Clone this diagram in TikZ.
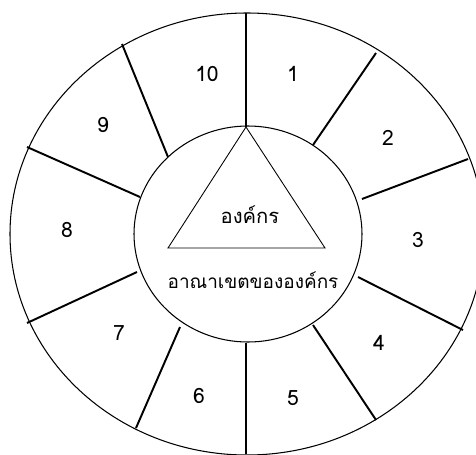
\documentclass[tikz,border=0pt]{standalone}
\usepackage{fontspec}
\newfontfamily\thaifont[Script=Thai]{Loma}
\usepackage{tikz}

\begin{document}
\begin{tikzpicture}[x=1cm,y=1cm,line width=.6pt,font=\thaifont\fontsize{12}{14}\selectfont]
\useasboundingbox (0,0) rectangle (9.52,9.08);
\clip (0,0) rectangle (9.52,9.08);
\draw (4.94,4.40) ellipse [x radius=4.74,y radius=4.42];
\draw (4.96,4.40) ellipse [x radius=2.28,y radius=2.16];
\draw[line width=.5pt] (4.92,6.54)--(3.36,4.12)--(6.50,4.12)--cycle;
% spokes
\draw[line width=1.1pt] (4.92,6.54)--(4.92,8.82);
\draw[line width=1.1pt] (6.26,6.18)--(7.52,8.02);
\draw[line width=1.1pt] (7.24,5.10)--(9.36,5.90);
\draw[line width=1.1pt] (7.16,3.54)--(9.26,2.48);
\draw[line width=1.1pt] (6.26,2.58)--(7.52,0.68);
\draw[line width=1.1pt] (4.92,2.22)--(4.92,0.00);
\draw[line width=1.1pt] (3.60,2.54)--(2.72,0.52);
\draw[line width=1.1pt] (2.74,3.64)--(0.54,2.62);
\draw[line width=1.1pt] (2.80,5.14)--(0.54,6.14);
\draw[line width=1.1pt] (3.36,5.94)--(2.44,8.20);
\node[font=\thaifont\fontsize{11.5}{13}\selectfont] (org) at (5.00,4.78) {องค์กร};
\node[font=\thaifont\fontsize{10.8}{13}\selectfont] (domain) at (5.06,3.48) {อาณาเขตขององค์กร};
\node (n1) at (5.86,7.60) {1};
\node (n2) at (7.76,6.32) {2};
\node (n3) at (8.36,4.28) {3};
\node (n4) at (7.58,2.22) {4};
\node (n5) at (5.86,1.12) {5};
\node (n6) at (3.98,1.16) {6};
\node (n7) at (2.38,2.42) {7};
\node (n8) at (1.34,4.48) {8};
\node (n9) at (2.06,6.58) {9};
\node (n10) at (4.14,7.60) {10};
\end{tikzpicture}
\end{document}
